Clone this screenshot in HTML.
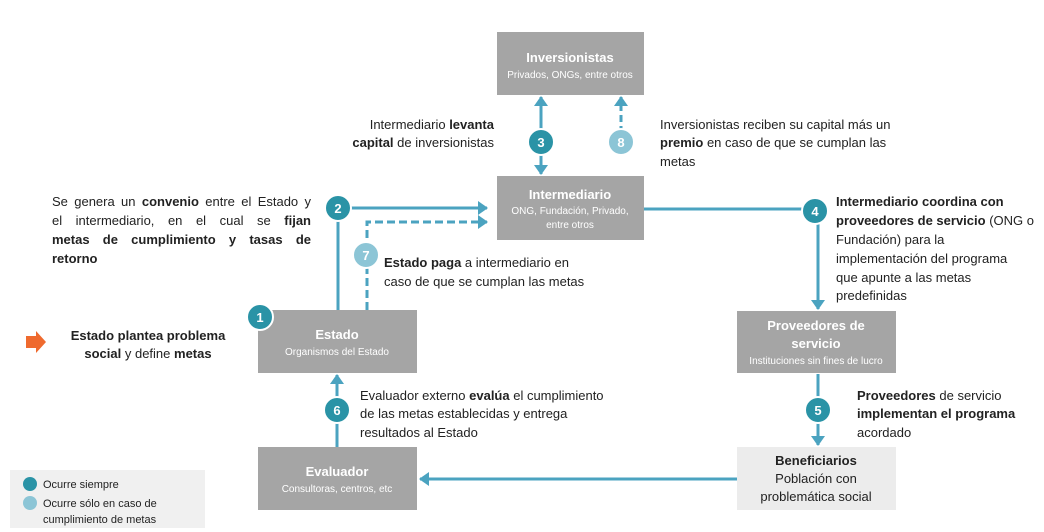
<!DOCTYPE html>
<html><head><meta charset="utf-8"><style>
html,body{margin:0;padding:0;background:#fff;}
svg{display:block;}
text{font-family:"Liberation Sans",sans-serif;}
.just{position:absolute;left:52px;top:192px;width:259px;font:13px/19px "Liberation Sans",sans-serif;color:#222;}
.just div{text-align:justify;text-align-last:justify;white-space:nowrap;}
.just div.l{text-align-last:left;}
</style></head><body>
<div style="position:relative;width:1044px;height:532px;">
<svg width="1044" height="532" viewBox="0 0 1044 532" xmlns="http://www.w3.org/2000/svg" style="position:absolute;left:0;top:0">
<defs>
<marker id="ah" markerWidth="12" markerHeight="14" refX="9" refY="7" orient="auto" markerUnits="userSpaceOnUse"><path d="M0,0 L10,7 L0,14 Z" fill="#4ba3c0"/></marker>
</defs>
<rect x="497" y="32" width="147" height="63" fill="#a5a5a5"/>
<rect x="497" y="176" width="147" height="64" fill="#a5a5a5"/>
<rect x="258" y="310" width="159" height="63" fill="#a5a5a5"/>
<rect x="737" y="311" width="159" height="62" fill="#a5a5a5"/>
<rect x="258" y="447" width="159" height="63" fill="#a5a5a5"/>
<rect x="737" y="447" width="159" height="63" fill="#ececec"/>
<rect x="10" y="470" width="195" height="58" fill="#f0f0f0"/>
<g fill="#fff" text-anchor="middle">
<text x="570" y="62" font-size="13" font-weight="bold">Inversionistas</text>
<text x="570" y="78" font-size="10">Privados, ONGs, entre otros</text>
<text x="570" y="199" font-size="13" font-weight="bold">Intermediario</text>
<text x="570" y="214" font-size="10">ONG, Fundación, Privado,</text>
<text x="570" y="228" font-size="10">entre otros</text>
<text x="337" y="339" font-size="13" font-weight="bold">Estado</text>
<text x="337" y="355" font-size="10">Organismos del Estado</text>
<text x="816" y="330" font-size="13" font-weight="bold">Proveedores de</text>
<text x="816" y="348" font-size="13" font-weight="bold">servicio</text>
<text x="816" y="364" font-size="10">Instituciones sin fines de lucro</text>
<text x="337" y="476" font-size="13" font-weight="bold">Evaluador</text>
<text x="337" y="492" font-size="10">Consultoras, centros, etc</text>
</g>
<g fill="#222" text-anchor="middle" font-size="13">
<text x="816" y="465" font-weight="bold">Beneficiarios</text>
<text x="816" y="483">Población con</text>
<text x="816" y="501">problemática social</text>
</g>
<g stroke="#4ba3c0" stroke-width="3" fill="none">
<line x1="541" y1="129" x2="541" y2="97" marker-end="url(#ah)"/>
<line x1="541" y1="155" x2="541" y2="174" marker-end="url(#ah)"/>
<line x1="621" y1="155" x2="621" y2="97" stroke-dasharray="7,4" marker-end="url(#ah)"/>
<line x1="351" y1="208" x2="487" y2="208" marker-end="url(#ah)"/>
<polyline points="367,310 367,222 487,222" stroke-dasharray="8,4" marker-end="url(#ah)"/>
<line x1="338" y1="221" x2="338" y2="310"/>
<line x1="644" y1="209" x2="802" y2="209"/>
<line x1="818" y1="224" x2="818" y2="309" marker-end="url(#ah)"/>
<line x1="818" y1="374" x2="818" y2="397"/>
<line x1="818" y1="423" x2="818" y2="445" marker-end="url(#ah)"/>
<line x1="337" y1="447" x2="337" y2="423"/>
<line x1="337" y1="397" x2="337" y2="375" marker-end="url(#ah)"/>
<line x1="737" y1="479" x2="420" y2="479" marker-end="url(#ah)"/>
</g>
<g font-size="13" font-weight="bold" text-anchor="middle" fill="#fff">
<circle cx="260" cy="317" r="13" fill="#2a93a6" stroke="#fff" stroke-width="2"/><text x="260" y="322">1</text>
<circle cx="338" cy="208" r="13" fill="#2a93a6" stroke="#fff" stroke-width="2"/><text x="338" y="213">2</text>
<circle cx="541" cy="142" r="13" fill="#2a93a6" stroke="#fff" stroke-width="2"/><text x="541" y="147">3</text>
<circle cx="815" cy="211" r="13" fill="#2a93a6" stroke="#fff" stroke-width="2"/><text x="815" y="216">4</text>
<circle cx="818" cy="410" r="13" fill="#2a93a6" stroke="#fff" stroke-width="2"/><text x="818" y="415">5</text>
<circle cx="337" cy="410" r="13" fill="#2a93a6" stroke="#fff" stroke-width="2"/><text x="337" y="415">6</text>
<circle cx="366" cy="255" r="13" fill="#8cc5d6" stroke="#fff" stroke-width="2"/><text x="366" y="260">7</text>
<circle cx="621" cy="142" r="13" fill="#8cc5d6" stroke="#fff" stroke-width="2"/><text x="621" y="147">8</text>
</g>
<g fill="#222" font-size="13">
<text x="494" y="129" text-anchor="end">Intermediario <tspan font-weight="bold">levanta</tspan></text>
<text x="494" y="147" text-anchor="end"><tspan font-weight="bold">capital</tspan> de inversionistas</text>
<text x="660" y="129">Inversionistas reciben  su capital más un</text>
<text x="660" y="147"><tspan font-weight="bold">premio</tspan> en caso de que se cumplan las</text>
<text x="660" y="166">metas</text>
<text x="384" y="267"><tspan font-weight="bold">Estado paga</tspan> a intermediario en</text>
<text x="384" y="286">caso de que se cumplan las metas</text>
<text x="836" y="206" font-weight="bold">Intermediario coordina con</text>
<text x="836" y="225"><tspan font-weight="bold">proveedores de servicio</tspan> (ONG o</text>
<text x="836" y="244">Fundación) para la</text>
<text x="836" y="263">implementación del programa</text>
<text x="836" y="282">que apunte a las metas</text>
<text x="836" y="300">predefinidas</text>
<text x="148" y="340" text-anchor="middle" font-weight="bold">Estado plantea problema</text>
<text x="148" y="358" text-anchor="middle"><tspan font-weight="bold">social</tspan> y define <tspan font-weight="bold">metas</tspan></text>
<text x="360" y="400">Evaluador externo <tspan font-weight="bold">evalúa</tspan> el cumplimiento</text>
<text x="360" y="418">de las metas establecidas y entrega</text>
<text x="360" y="437">resultados al Estado</text>
<text x="857" y="400"><tspan font-weight="bold">Proveedores</tspan> de servicio</text>
<text x="857" y="418" font-weight="bold">implementan el programa</text>
<text x="857" y="437">acordado</text>
</g>
<path d="M26,336 L36,336 L36,331 L46,342 L36,353 L36,348 L26,348 Z" fill="#ef6a2e"/>
<circle cx="30" cy="484" r="7" fill="#2a93a6"/>
<circle cx="30" cy="503" r="7" fill="#8cc5d6"/>
<g font-size="11" fill="#222">
<text x="43" y="488">Ocurre siempre</text>
<text x="43" y="507">Ocurre sólo en caso de</text>
<text x="43" y="523">cumplimiento de metas</text>
</g>
</svg>
<div class="just">
<div>Se genera un <b>convenio</b> entre el Estado y</div>
<div>el intermediario, en el cual se <b>fijan</b></div>
<div><b>metas de cumplimiento y tasas de</b></div>
<div class="l"><b>retorno</b></div>
</div>
</div>
</body></html>
